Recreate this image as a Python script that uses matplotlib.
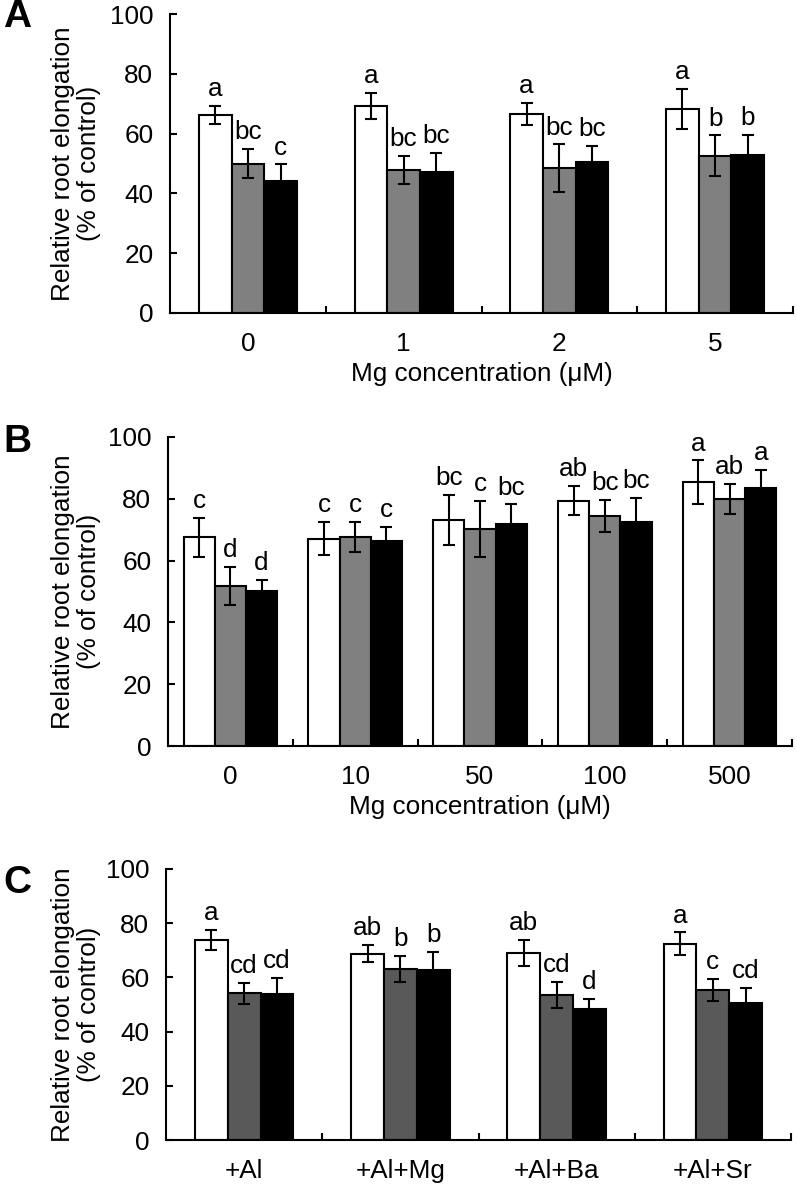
import numpy as np
import matplotlib
matplotlib.use('Agg')
import matplotlib.pyplot as plt

plt.rcParams['font.family'] = ['Liberation Sans', 'DejaVu Sans']

# panel A
A_cats = ['0', '1', '2', '5']
A_white = [66.3, 69.3, 66.7, 68.3]
A_white_err = [3.0, 4.3, 3.7, 6.6]
A_gray = [50.0, 47.8, 48.4, 52.6]
A_gray_err = [4.9, 4.8, 8.0, 6.8]
A_black = [44.2, 47.2, 50.4, 53.0]
A_black_err = [5.5, 6.3, 5.5, 6.6]
A_white_lab = ['a', 'a', 'a', 'a']
A_gray_lab = ['bc', 'bc', 'bc', 'b']
A_black_lab = ['c', 'bc', 'bc', 'b']

# panel B
B_cats = ['0', '10', '50', '100', '500']
B_white = [67.6, 67.1, 73.1, 79.4, 85.3]
B_white_err = [6.3, 5.4, 8.1, 4.7, 7.1]
B_gray = [51.8, 67.6, 70.2, 74.4, 80.0]
B_gray_err = [6.2, 4.9, 9.1, 5.2, 4.9]
B_black = [50.2, 66.4, 71.9, 72.4, 83.4]
B_black_err = [3.5, 4.5, 6.3, 8.0, 5.9]
B_white_lab = ['c', 'c', 'bc', 'ab', 'a']
B_gray_lab = ['d', 'c', 'c', 'bc', 'ab']
B_black_lab = ['d', 'c', 'bc', 'bc', 'a']

# panel C
C_cats = ['+Al', '+Al+Mg', '+Al+Ba', '+Al+Sr']
C_white = [73.8, 68.8, 69.0, 72.4]
C_white_err = [3.7, 3.1, 4.9, 4.2]
C_gray = [54.1, 63.2, 53.6, 55.4]
C_gray_err = [3.8, 4.8, 4.8, 4.1]
C_black = [53.9, 62.9, 48.3, 50.6]
C_black_err = [6.0, 6.6, 3.7, 5.6]
C_white_lab = ['a', 'ab', 'ab', 'a']
C_gray_lab = ['cd', 'b', 'cd', 'c']
C_black_lab = ['cd', 'b', 'd', 'cd']

W, H = 797, 1190
fig = plt.figure(figsize=(W / 100, H / 100), dpi=100)

FS = 18.8


def panel(rect, cats, series, errs, labs, width, gray, letter, letter_y, xlabel=None):
    ax = fig.add_axes(rect)
    x = np.arange(len(cats))
    colors = ['white', gray, 'black']
    for i, (vals, err, lab, col) in enumerate(zip(series, errs, labs, colors)):
        xi = x + (i - 1) * width
        ax.bar(xi, vals, width=width, color=col, edgecolor='black', linewidth=1.5, zorder=2)
        ax.errorbar(xi, vals, yerr=err, fmt='none', ecolor='black', elinewidth=1.5,
                    capsize=4.5, capthick=1.5, zorder=3)
        for xx, v, e, t in zip(xi, vals, err, lab):
            ax.annotate(t, (xx, v + e), xytext=(0, 7), textcoords='offset points',
                        ha='center', va='baseline', fontsize=FS)
    ax.set_xlim(-0.5, len(cats) - 0.5)
    ax.set_ylim(0, 100)
    ax.set_yticks(range(0, 101, 20))
    ax.set_xticks(np.arange(len(cats)) + 0.5)
    ax.set_xticklabels([])
    ax.set_xticks(x, minor=True)
    ax.set_xticklabels(cats, minor=True)
    ax.tick_params(axis='both', which='major', direction='in', length=5, width=1.5,
                   labelsize=FS)
    ax.tick_params(axis='y', pad=12)
    ax.tick_params(axis='x', which='minor', length=0, pad=14, labelsize=FS)
    for s in ['top', 'right']:
        ax.spines[s].set_visible(False)
    for s in ['left', 'bottom']:
        ax.spines[s].set_linewidth(1.5)
    if xlabel:
        ax.set_xlabel(xlabel, fontsize=FS, labelpad=4)
    yc = rect[1] + rect[3] / 2
    fig.text(76 / W, yc, 'Relative root elongation\n(% of control)', rotation=90,
             ha='center', va='center', fontsize=FS, multialignment='center',
             linespacing=1.12)
    fig.text(17 / W, letter_y, letter, fontsize=28, fontweight='bold',
             ha='center', va='center')
    return ax


def rect_px(l, r, t, b):
    return [l / W, 1 - b / H, (r - l) / W, (b - t) / H]


panel(rect_px(170, 793, 14, 313), A_cats,
      [A_white, A_gray, A_black], [A_white_err, A_gray_err, A_black_err],
      [A_white_lab, A_gray_lab, A_black_lab], 0.21, '#808080', 'A', 1 - 17 / H,
      'Mg concentration (μM)')
panel(rect_px(168, 792, 437, 746), B_cats,
      [B_white, B_gray, B_black], [B_white_err, B_gray_err, B_black_err],
      [B_white_lab, B_gray_lab, B_black_lab], 0.25, '#808080', 'B', 1 - 442 / H,
      'Mg concentration (μM)')
panel(rect_px(166, 791, 869, 1140), C_cats,
      [C_white, C_gray, C_black], [C_white_err, C_gray_err, C_black_err],
      [C_white_lab, C_gray_lab, C_black_lab], 0.21, '#595959', 'C', 1 - 883 / H)

fig.savefig('out.png', dpi=100)
